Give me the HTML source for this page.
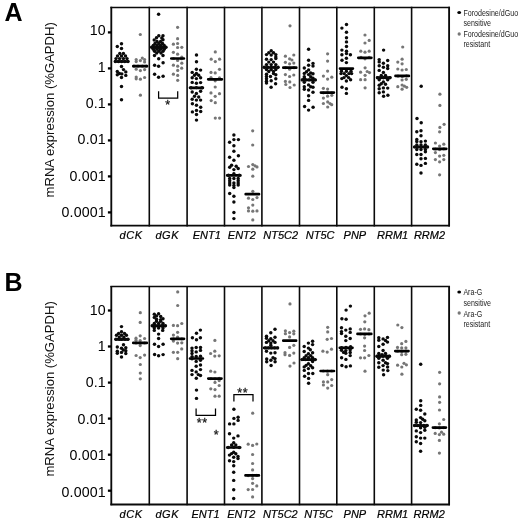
<!DOCTYPE html>
<html><head><meta charset="utf-8"><title>Figure</title>
<style>html,body{margin:0;padding:0;background:#fff}svg{display:block}</style></head>
<body>
<svg width="520" height="523" viewBox="0 0 520 523" font-family="Liberation Sans, sans-serif">
<rect width="520" height="523" fill="#fff"/>
<path d="M149.3 6.8V226.5M187.1 6.8V226.5M224.5 6.8V226.5M261.9 6.8V226.5M299.5 6.8V226.5M336.8 6.8V226.5M374.3 6.8V226.5M411.6 6.8V226.5" stroke="#0a0a0a" stroke-width="1.6" fill="none"/>
<path d="M111.3 6.8V226.5M449.1 6.8V226.5" stroke="#0a0a0a" stroke-width="1.85" fill="none"/>
<path d="M110.4 7.5H450.0" stroke="#0a0a0a" stroke-width="1.5" fill="none"/>
<path d="M110.4 225.6H450.0" stroke="#0a0a0a" stroke-width="1.9" fill="none"/>
<g font-size="14.2" letter-spacing="0.17" text-anchor="end" fill="#000">
<line x1="107.9" y1="32.4" x2="111.3" y2="32.4" stroke="#000" stroke-width="2.3"/>
<text x="105.9" y="35.4">10</text>
<line x1="107.9" y1="68.4" x2="111.3" y2="68.4" stroke="#000" stroke-width="2.3"/>
<text x="105.9" y="71.7">1</text>
<line x1="107.9" y1="104.4" x2="111.3" y2="104.4" stroke="#000" stroke-width="2.3"/>
<text x="105.9" y="108.1">0.1</text>
<line x1="107.9" y1="140.4" x2="111.3" y2="140.4" stroke="#000" stroke-width="2.3"/>
<text x="105.9" y="144.4">0.01</text>
<line x1="107.9" y1="176.4" x2="111.3" y2="176.4" stroke="#000" stroke-width="2.3"/>
<text x="105.9" y="180.8">0.001</text>
<line x1="107.9" y1="212.4" x2="111.3" y2="212.4" stroke="#000" stroke-width="2.3"/>
<text x="105.9" y="217.1">0.0001</text>
</g>
<g font-size="11" font-style="italic" text-anchor="middle" fill="#000" stroke="#000" stroke-width="0.2">
<text x="131.2" y="238.6" letter-spacing="0.6">dCK</text>
<text x="167.3" y="238.6" letter-spacing="0.6">dGK</text>
<text x="206.8" y="238.6">ENT1</text>
<text x="241.9" y="238.6">ENT2</text>
<text x="280.7" y="238.6">NT5C2</text>
<text x="320.1" y="238.6">NT5C</text>
<text x="354.9" y="238.6">PNP</text>
<text x="392.6" y="238.6">RRM1</text>
<text x="429.5" y="238.6">RRM2</text>
</g>
<text transform="translate(54.2,109.8) rotate(-90)" font-size="13.1" text-anchor="middle" fill="#111">mRNA expression (%GAPDH)</text>
<text x="4.5" y="20.8" font-size="25" font-weight="bold" fill="#000">A</text>
<g fill="#767676">
<circle cx="140.3" cy="34.5" r="1.6"/><circle cx="136.2" cy="59.6" r="1.6"/><circle cx="136.2" cy="61.6" r="1.6"/><circle cx="142.3" cy="58.1" r="1.6"/><circle cx="140.4" cy="60.6" r="1.6"/><circle cx="144.6" cy="59.6" r="1.6"/><circle cx="144.6" cy="62" r="1.6"/><circle cx="134" cy="66.2" r="1.6"/><circle cx="138" cy="66.2" r="1.6"/><circle cx="142.4" cy="66.2" r="1.6"/><circle cx="146.3" cy="66.2" r="1.6"/><circle cx="136.2" cy="69.2" r="1.6"/><circle cx="140.4" cy="70.6" r="1.6"/><circle cx="144.6" cy="69.6" r="1.6"/><circle cx="136.2" cy="77" r="1.6"/><circle cx="136.2" cy="78.8" r="1.6"/><circle cx="140.4" cy="79.2" r="1.6"/><circle cx="144.6" cy="77.5" r="1.6"/><circle cx="140.4" cy="95.2" r="1.6"/><circle cx="177.6" cy="27.3" r="1.6"/><circle cx="177.6" cy="38.7" r="1.6"/><circle cx="173.4" cy="44.2" r="1.6"/><circle cx="177.6" cy="43.5" r="1.6"/><circle cx="177.6" cy="47.5" r="1.6"/><circle cx="181.8" cy="47.3" r="1.6"/><circle cx="173.4" cy="52.3" r="1.6"/><circle cx="177.6" cy="54.2" r="1.6"/><circle cx="181.8" cy="57" r="1.6"/><circle cx="177.6" cy="60.4" r="1.6"/><circle cx="181.8" cy="63.2" r="1.6"/><circle cx="173.4" cy="65.2" r="1.6"/><circle cx="177.7" cy="66.2" r="1.6"/><circle cx="181.7" cy="68.2" r="1.6"/><circle cx="177.7" cy="70.4" r="1.6"/><circle cx="173.4" cy="74.2" r="1.6"/><circle cx="177.7" cy="75.4" r="1.6"/><circle cx="177.7" cy="80.3" r="1.6"/><circle cx="173.5" cy="58.5" r="1.6"/><circle cx="181.5" cy="58.7" r="1.6"/><circle cx="215.3" cy="51.9" r="1.6"/><circle cx="211.2" cy="59.2" r="1.6"/><circle cx="215.3" cy="61.6" r="1.6"/><circle cx="219.6" cy="59.2" r="1.6"/><circle cx="219.5" cy="69.3" r="1.6"/><circle cx="211" cy="72.4" r="1.6"/><circle cx="215.2" cy="72.9" r="1.6"/><circle cx="211" cy="77.6" r="1.6"/><circle cx="219.5" cy="77.9" r="1.6"/><circle cx="215.2" cy="80.8" r="1.6"/><circle cx="215.2" cy="87" r="1.6"/><circle cx="211" cy="92.9" r="1.6"/><circle cx="219.5" cy="93.7" r="1.6"/><circle cx="215.2" cy="96.3" r="1.6"/><circle cx="211.2" cy="100.6" r="1.6"/><circle cx="215.3" cy="102.7" r="1.6"/><circle cx="215.3" cy="118.1" r="1.6"/><circle cx="219.6" cy="118.1" r="1.6"/><circle cx="252.7" cy="130.8" r="1.6"/><circle cx="252.7" cy="145" r="1.6"/><circle cx="248.5" cy="166.5" r="1.6"/><circle cx="252.8" cy="164.6" r="1.6"/><circle cx="255" cy="165.8" r="1.6"/><circle cx="257" cy="166.9" r="1.6"/><circle cx="252.8" cy="169.2" r="1.6"/><circle cx="252.8" cy="176.2" r="1.6"/><circle cx="252.8" cy="191.3" r="1.6"/><circle cx="248.5" cy="198.2" r="1.6"/><circle cx="252.8" cy="199.5" r="1.6"/><circle cx="257" cy="197.6" r="1.6"/><circle cx="252.8" cy="205.1" r="1.6"/><circle cx="248.5" cy="207.8" r="1.6"/><circle cx="248.5" cy="210.9" r="1.6"/><circle cx="252.8" cy="211.2" r="1.6"/><circle cx="257" cy="210.9" r="1.6"/><circle cx="252.8" cy="219.9" r="1.6"/><circle cx="290" cy="25.8" r="1.6"/><circle cx="285.4" cy="56.2" r="1.6"/><circle cx="293.8" cy="55" r="1.6"/><circle cx="289.6" cy="58.8" r="1.6"/><circle cx="291.9" cy="60" r="1.6"/><circle cx="285.4" cy="62.3" r="1.6"/><circle cx="289.6" cy="63.8" r="1.6"/><circle cx="293.8" cy="63.1" r="1.6"/><circle cx="289.6" cy="69.2" r="1.6"/><circle cx="285.5" cy="67.7" r="1.6"/><circle cx="294" cy="67.7" r="1.6"/><circle cx="285.4" cy="74.6" r="1.6"/><circle cx="289.6" cy="76.5" r="1.6"/><circle cx="293.8" cy="75" r="1.6"/><circle cx="285.4" cy="81.4" r="1.6"/><circle cx="289.8" cy="81.9" r="1.6"/><circle cx="285.8" cy="84.5" r="1.6"/><circle cx="294.2" cy="85" r="1.6"/><circle cx="290" cy="87.5" r="1.6"/><circle cx="327.6" cy="53.8" r="1.6"/><circle cx="327.6" cy="61.1" r="1.6"/><circle cx="327.6" cy="71.1" r="1.6"/><circle cx="323.4" cy="76.1" r="1.6"/><circle cx="331.8" cy="77.2" r="1.6"/><circle cx="327.6" cy="79.1" r="1.6"/><circle cx="323.4" cy="88.3" r="1.6"/><circle cx="327.6" cy="89.1" r="1.6"/><circle cx="323.4" cy="92.8" r="1.6"/><circle cx="327.6" cy="92.6" r="1.6"/><circle cx="331.8" cy="92.8" r="1.6"/><circle cx="327.6" cy="96.2" r="1.6"/><circle cx="331.8" cy="95.3" r="1.6"/><circle cx="323.4" cy="98.1" r="1.6"/><circle cx="323.4" cy="103.5" r="1.6"/><circle cx="327.7" cy="101.9" r="1.6"/><circle cx="330" cy="103.5" r="1.6"/><circle cx="331.7" cy="104.7" r="1.6"/><circle cx="327.7" cy="107" r="1.6"/><circle cx="365" cy="35" r="1.6"/><circle cx="369.2" cy="40.4" r="1.6"/><circle cx="365" cy="43" r="1.6"/><circle cx="360.8" cy="51.2" r="1.6"/><circle cx="365" cy="52.2" r="1.6"/><circle cx="369.2" cy="51.2" r="1.6"/><circle cx="361" cy="57.4" r="1.6"/><circle cx="365" cy="58.8" r="1.6"/><circle cx="369.2" cy="57.4" r="1.6"/><circle cx="365.1" cy="67.8" r="1.6"/><circle cx="360.6" cy="72.2" r="1.6"/><circle cx="367.2" cy="71.5" r="1.6"/><circle cx="369.5" cy="72.6" r="1.6"/><circle cx="365.1" cy="75.3" r="1.6"/><circle cx="360.6" cy="79.7" r="1.6"/><circle cx="365.1" cy="79.7" r="1.6"/><circle cx="365.1" cy="87.8" r="1.6"/><circle cx="402.7" cy="47" r="1.6"/><circle cx="402.1" cy="59.2" r="1.6"/><circle cx="397.8" cy="62.1" r="1.6"/><circle cx="402.1" cy="63.8" r="1.6"/><circle cx="397.8" cy="69" r="1.6"/><circle cx="402.1" cy="70" r="1.6"/><circle cx="406.3" cy="69.5" r="1.6"/><circle cx="398" cy="76.2" r="1.6"/><circle cx="402.3" cy="76.6" r="1.6"/><circle cx="406.5" cy="75.8" r="1.6"/><circle cx="402.1" cy="80" r="1.6"/><circle cx="406.3" cy="79.3" r="1.6"/><circle cx="397.8" cy="86.7" r="1.6"/><circle cx="402.1" cy="85" r="1.6"/><circle cx="404.4" cy="86.2" r="1.6"/><circle cx="406.7" cy="87.3" r="1.6"/><circle cx="402.1" cy="89.2" r="1.6"/><circle cx="439.9" cy="94.2" r="1.6"/><circle cx="439.9" cy="105.4" r="1.6"/><circle cx="444.1" cy="124.3" r="1.6"/><circle cx="439.9" cy="127.4" r="1.6"/><circle cx="439.6" cy="131.8" r="1.6"/><circle cx="435.4" cy="143" r="1.6"/><circle cx="443.8" cy="144.2" r="1.6"/><circle cx="439.6" cy="146.1" r="1.6"/><circle cx="435.4" cy="149" r="1.6"/><circle cx="439.6" cy="149.6" r="1.6"/><circle cx="443.8" cy="148.8" r="1.6"/><circle cx="435.4" cy="152.6" r="1.6"/><circle cx="439.6" cy="156.1" r="1.6"/><circle cx="443.8" cy="155.3" r="1.6"/><circle cx="435.4" cy="159.6" r="1.6"/><circle cx="443.8" cy="159.6" r="1.6"/><circle cx="439.6" cy="161.8" r="1.6"/><circle cx="439.6" cy="174.8" r="1.6"/>
</g>
<path d="M115.5 61.5H128M133.3 66.2H147M152 47.3H165.6M171.3 58.5H183.9M190 87.8H202.9M208.2 79.3H221.9M227.2 175.4H240.4M245.7 194.2H259M264.5 67.5H277.8M283.3 67.7H296.3M302.3 79.9H315.2M320.9 92.6H333.9M340 68.6H352.9M358.3 57.8H371.4M377.2 77.6H390.4M395.5 75.9H408.9M414.5 147H427.8M433.3 148.8H446.3" stroke="#000" stroke-width="2.7" stroke-linecap="round" fill="none"/>
<g fill="#0a0a0a">
<circle cx="121.5" cy="43.8" r="1.72"/><circle cx="117.3" cy="46.5" r="1.72"/><circle cx="121.5" cy="48.5" r="1.72"/><circle cx="119.8" cy="53.5" r="1.72"/><circle cx="123.4" cy="53.5" r="1.72"/><circle cx="117.5" cy="56" r="1.72"/><circle cx="121.5" cy="56" r="1.72"/><circle cx="125.5" cy="56" r="1.72"/><circle cx="116" cy="58.6" r="1.72"/><circle cx="119.6" cy="58.6" r="1.72"/><circle cx="123.4" cy="58.6" r="1.72"/><circle cx="127" cy="58.6" r="1.72"/><circle cx="115.3" cy="61.5" r="1.72"/><circle cx="118.5" cy="61.5" r="1.72"/><circle cx="121.6" cy="61.5" r="1.72"/><circle cx="124.8" cy="61.5" r="1.72"/><circle cx="128" cy="61.5" r="1.72"/><circle cx="121.5" cy="66.5" r="1.72"/><circle cx="123.5" cy="69.6" r="1.72"/><circle cx="125.8" cy="71.9" r="1.72"/><circle cx="117.3" cy="71.5" r="1.72"/><circle cx="119.4" cy="73.5" r="1.72"/><circle cx="117.3" cy="74.8" r="1.72"/><circle cx="121.8" cy="73.9" r="1.72"/><circle cx="125.8" cy="75.4" r="1.72"/><circle cx="121.5" cy="77.5" r="1.72"/><circle cx="121.5" cy="86.5" r="1.72"/><circle cx="121.5" cy="99.8" r="1.72"/><circle cx="158.6" cy="14.2" r="1.72"/><circle cx="158.8" cy="35.8" r="1.72"/><circle cx="163" cy="35.8" r="1.72"/><circle cx="156.5" cy="37.7" r="1.72"/><circle cx="161.8" cy="38" r="1.72"/><circle cx="154.2" cy="40" r="1.72"/><circle cx="163" cy="39.8" r="1.72"/><circle cx="157" cy="41.5" r="1.72"/><circle cx="160.6" cy="41.5" r="1.72"/><circle cx="155" cy="43.5" r="1.72"/><circle cx="158.8" cy="43.5" r="1.72"/><circle cx="162.5" cy="43.5" r="1.72"/><circle cx="153.3" cy="45.5" r="1.72"/><circle cx="157" cy="45.5" r="1.72"/><circle cx="160.6" cy="45.5" r="1.72"/><circle cx="164.2" cy="45.5" r="1.72"/><circle cx="151.6" cy="47.3" r="1.72"/><circle cx="155.2" cy="47.3" r="1.72"/><circle cx="158.8" cy="47.3" r="1.72"/><circle cx="162.4" cy="47.3" r="1.72"/><circle cx="166" cy="47.3" r="1.72"/><circle cx="153.3" cy="49.3" r="1.72"/><circle cx="157" cy="49.3" r="1.72"/><circle cx="160.6" cy="49.3" r="1.72"/><circle cx="164.2" cy="49.3" r="1.72"/><circle cx="154.6" cy="51.3" r="1.72"/><circle cx="158.8" cy="51.3" r="1.72"/><circle cx="163" cy="51.3" r="1.72"/><circle cx="156.7" cy="53" r="1.72"/><circle cx="161" cy="53" r="1.72"/><circle cx="154.5" cy="55.5" r="1.72"/><circle cx="163" cy="55.5" r="1.72"/><circle cx="158.7" cy="58.7" r="1.72"/><circle cx="163.1" cy="62.7" r="1.72"/><circle cx="154.6" cy="65.3" r="1.72"/><circle cx="158.6" cy="66.2" r="1.72"/><circle cx="154.6" cy="74.3" r="1.72"/><circle cx="158.6" cy="77.3" r="1.72"/><circle cx="163.1" cy="76.3" r="1.72"/><circle cx="196.5" cy="55" r="1.72"/><circle cx="196.5" cy="61.8" r="1.72"/><circle cx="196.4" cy="69.3" r="1.72"/><circle cx="200.6" cy="70.1" r="1.72"/><circle cx="192.2" cy="72.4" r="1.72"/><circle cx="196.4" cy="73.5" r="1.72"/><circle cx="194.5" cy="75.2" r="1.72"/><circle cx="198.7" cy="75.2" r="1.72"/><circle cx="192.2" cy="77.8" r="1.72"/><circle cx="196.4" cy="78.6" r="1.72"/><circle cx="200.6" cy="77.8" r="1.72"/><circle cx="192.2" cy="82.4" r="1.72"/><circle cx="196.4" cy="83.2" r="1.72"/><circle cx="200.6" cy="82.6" r="1.72"/><circle cx="192.2" cy="92" r="1.72"/><circle cx="200.6" cy="91.2" r="1.72"/><circle cx="196.4" cy="93.5" r="1.72"/><circle cx="194.5" cy="96.2" r="1.72"/><circle cx="198.7" cy="97" r="1.72"/><circle cx="192.2" cy="99.3" r="1.72"/><circle cx="196.4" cy="100.1" r="1.72"/><circle cx="200.6" cy="100.1" r="1.72"/><circle cx="192.4" cy="103.8" r="1.72"/><circle cx="196.5" cy="105.3" r="1.72"/><circle cx="200.7" cy="107.3" r="1.72"/><circle cx="192.4" cy="111.9" r="1.72"/><circle cx="196.5" cy="110.4" r="1.72"/><circle cx="200.7" cy="111.5" r="1.72"/><circle cx="196.5" cy="114.5" r="1.72"/><circle cx="196.5" cy="120.1" r="1.72"/><circle cx="191" cy="87.8" r="1.72"/><circle cx="196.4" cy="87.6" r="1.72"/><circle cx="202" cy="87.8" r="1.72"/><circle cx="233.9" cy="135" r="1.72"/><circle cx="233.9" cy="139.6" r="1.72"/><circle cx="238.4" cy="139.6" r="1.72"/><circle cx="229.6" cy="142.2" r="1.72"/><circle cx="233.9" cy="145.8" r="1.72"/><circle cx="233.9" cy="151.2" r="1.72"/><circle cx="238.4" cy="155.8" r="1.72"/><circle cx="229.6" cy="157.3" r="1.72"/><circle cx="233.9" cy="160.3" r="1.72"/><circle cx="231.6" cy="165.2" r="1.72"/><circle cx="229.7" cy="167.3" r="1.72"/><circle cx="236.2" cy="166.2" r="1.72"/><circle cx="238.2" cy="168.5" r="1.72"/><circle cx="233.9" cy="169.6" r="1.72"/><circle cx="233.9" cy="173.8" r="1.72"/><circle cx="229.7" cy="178.5" r="1.72"/><circle cx="233.9" cy="178.5" r="1.72"/><circle cx="238.2" cy="178.5" r="1.72"/><circle cx="229.7" cy="180.8" r="1.72"/><circle cx="238.2" cy="180.8" r="1.72"/><circle cx="229.7" cy="183" r="1.72"/><circle cx="233.9" cy="183" r="1.72"/><circle cx="238.2" cy="183" r="1.72"/><circle cx="229.7" cy="185" r="1.72"/><circle cx="233.9" cy="185.4" r="1.72"/><circle cx="238.2" cy="185" r="1.72"/><circle cx="233.9" cy="187.6" r="1.72"/><circle cx="229.7" cy="193.5" r="1.72"/><circle cx="233.9" cy="196.3" r="1.72"/><circle cx="233.9" cy="202" r="1.72"/><circle cx="233.9" cy="212.5" r="1.72"/><circle cx="233.9" cy="218.6" r="1.72"/><circle cx="228.5" cy="175.3" r="1.72"/><circle cx="239.3" cy="175.3" r="1.72"/><circle cx="271.2" cy="50.8" r="1.72"/><circle cx="268.8" cy="52.7" r="1.72"/><circle cx="273.5" cy="52.7" r="1.72"/><circle cx="266.5" cy="54.6" r="1.72"/><circle cx="271.2" cy="55" r="1.72"/><circle cx="275.8" cy="54.6" r="1.72"/><circle cx="275.8" cy="56.9" r="1.72"/><circle cx="275.8" cy="58.6" r="1.72"/><circle cx="266.5" cy="59.2" r="1.72"/><circle cx="271.2" cy="59.6" r="1.72"/><circle cx="268.8" cy="62.1" r="1.72"/><circle cx="273.5" cy="62.1" r="1.72"/><circle cx="266.5" cy="64.6" r="1.72"/><circle cx="271.2" cy="64.6" r="1.72"/><circle cx="275.8" cy="64.6" r="1.72"/><circle cx="264.2" cy="67.3" r="1.72"/><circle cx="267.7" cy="67.3" r="1.72"/><circle cx="271.2" cy="67.3" r="1.72"/><circle cx="274.6" cy="67.3" r="1.72"/><circle cx="278.1" cy="67.3" r="1.72"/><circle cx="266.5" cy="69.6" r="1.72"/><circle cx="271.2" cy="69.6" r="1.72"/><circle cx="275.8" cy="69.6" r="1.72"/><circle cx="268.8" cy="71.5" r="1.72"/><circle cx="273.5" cy="71.5" r="1.72"/><circle cx="266.5" cy="74.2" r="1.72"/><circle cx="273.5" cy="73.6" r="1.72"/><circle cx="275.8" cy="74.8" r="1.72"/><circle cx="266.5" cy="76.5" r="1.72"/><circle cx="266.5" cy="78.8" r="1.72"/><circle cx="266.5" cy="81.2" r="1.72"/><circle cx="266.5" cy="83.1" r="1.72"/><circle cx="270.5" cy="76.5" r="1.72"/><circle cx="275.8" cy="78.8" r="1.72"/><circle cx="271.2" cy="80.8" r="1.72"/><circle cx="275.6" cy="83.8" r="1.72"/><circle cx="271.1" cy="87.3" r="1.72"/><circle cx="308.6" cy="49.2" r="1.72"/><circle cx="308.6" cy="60.3" r="1.72"/><circle cx="313" cy="63.4" r="1.72"/><circle cx="313" cy="66.1" r="1.72"/><circle cx="308.6" cy="65.3" r="1.72"/><circle cx="304.3" cy="68" r="1.72"/><circle cx="308.6" cy="69.9" r="1.72"/><circle cx="306.5" cy="71.8" r="1.72"/><circle cx="304.3" cy="73.4" r="1.72"/><circle cx="310.7" cy="73" r="1.72"/><circle cx="313" cy="73.8" r="1.72"/><circle cx="308.6" cy="74.6" r="1.72"/><circle cx="304.3" cy="76.8" r="1.72"/><circle cx="310.7" cy="76.8" r="1.72"/><circle cx="304.3" cy="78.2" r="1.72"/><circle cx="313" cy="78.2" r="1.72"/><circle cx="302.2" cy="79.9" r="1.72"/><circle cx="305.7" cy="79.9" r="1.72"/><circle cx="309.2" cy="79.9" r="1.72"/><circle cx="312.6" cy="79.9" r="1.72"/><circle cx="315.3" cy="79.9" r="1.72"/><circle cx="304.3" cy="82.2" r="1.72"/><circle cx="313" cy="82.2" r="1.72"/><circle cx="308.6" cy="84.9" r="1.72"/><circle cx="304.3" cy="86.8" r="1.72"/><circle cx="310.7" cy="86.8" r="1.72"/><circle cx="313" cy="87.3" r="1.72"/><circle cx="304.3" cy="89.3" r="1.72"/><circle cx="308.6" cy="90" r="1.72"/><circle cx="313" cy="92.2" r="1.72"/><circle cx="308.6" cy="95.8" r="1.72"/><circle cx="308.6" cy="100.4" r="1.72"/><circle cx="304.6" cy="106.5" r="1.72"/><circle cx="313.1" cy="107.3" r="1.72"/><circle cx="308.6" cy="110.1" r="1.72"/><circle cx="346.5" cy="24.5" r="1.72"/><circle cx="341.9" cy="28.1" r="1.72"/><circle cx="346.5" cy="32.2" r="1.72"/><circle cx="346.5" cy="37.8" r="1.72"/><circle cx="346.5" cy="41.9" r="1.72"/><circle cx="346.5" cy="46.5" r="1.72"/><circle cx="341.9" cy="50.1" r="1.72"/><circle cx="346.5" cy="51.2" r="1.72"/><circle cx="341.9" cy="54.7" r="1.72"/><circle cx="346.5" cy="53.6" r="1.72"/><circle cx="350.4" cy="54.7" r="1.72"/><circle cx="346.4" cy="58.3" r="1.72"/><circle cx="342" cy="60.3" r="1.72"/><circle cx="346.4" cy="62.6" r="1.72"/><circle cx="341.5" cy="71.3" r="1.72"/><circle cx="346.4" cy="71.3" r="1.72"/><circle cx="351" cy="71.3" r="1.72"/><circle cx="341" cy="73.6" r="1.72"/><circle cx="344.2" cy="73.6" r="1.72"/><circle cx="349" cy="73.6" r="1.72"/><circle cx="351.6" cy="73.6" r="1.72"/><circle cx="346.4" cy="75.6" r="1.72"/><circle cx="344" cy="77.6" r="1.72"/><circle cx="348.6" cy="77.6" r="1.72"/><circle cx="341.8" cy="78.6" r="1.72"/><circle cx="350.6" cy="79.8" r="1.72"/><circle cx="346.4" cy="81" r="1.72"/><circle cx="342" cy="87.2" r="1.72"/><circle cx="346.4" cy="88.8" r="1.72"/><circle cx="346.4" cy="93.4" r="1.72"/><circle cx="383.6" cy="50.1" r="1.72"/><circle cx="379.2" cy="59.6" r="1.72"/><circle cx="379.2" cy="61.9" r="1.72"/><circle cx="387.7" cy="60.5" r="1.72"/><circle cx="383.4" cy="63.3" r="1.72"/><circle cx="379.2" cy="65.8" r="1.72"/><circle cx="387.7" cy="65.8" r="1.72"/><circle cx="387.7" cy="68.5" r="1.72"/><circle cx="383.4" cy="67.3" r="1.72"/><circle cx="379.2" cy="70.4" r="1.72"/><circle cx="383.4" cy="72.5" r="1.72"/><circle cx="381.3" cy="75.4" r="1.72"/><circle cx="385.5" cy="75.4" r="1.72"/><circle cx="377.5" cy="77.7" r="1.72"/><circle cx="380.5" cy="77.7" r="1.72"/><circle cx="383.4" cy="77.7" r="1.72"/><circle cx="386.3" cy="77.7" r="1.72"/><circle cx="389.8" cy="77.7" r="1.72"/><circle cx="379.2" cy="79.8" r="1.72"/><circle cx="387.7" cy="79.8" r="1.72"/><circle cx="383.4" cy="81.9" r="1.72"/><circle cx="381.3" cy="83.8" r="1.72"/><circle cx="385.5" cy="84.2" r="1.72"/><circle cx="379.2" cy="85.2" r="1.72"/><circle cx="379.2" cy="88.8" r="1.72"/><circle cx="383.4" cy="87.9" r="1.72"/><circle cx="387.7" cy="88.1" r="1.72"/><circle cx="379.2" cy="92.7" r="1.72"/><circle cx="383.4" cy="91.9" r="1.72"/><circle cx="387.9" cy="95.2" r="1.72"/><circle cx="383.6" cy="96.2" r="1.72"/><circle cx="421.2" cy="86.2" r="1.72"/><circle cx="417" cy="118.5" r="1.72"/><circle cx="421.2" cy="122.8" r="1.72"/><circle cx="416.8" cy="131.7" r="1.72"/><circle cx="421" cy="130.7" r="1.72"/><circle cx="421" cy="135.7" r="1.72"/><circle cx="416.8" cy="139.4" r="1.72"/><circle cx="416.8" cy="141.5" r="1.72"/><circle cx="421" cy="141.8" r="1.72"/><circle cx="425.4" cy="141.1" r="1.72"/><circle cx="416.8" cy="144.9" r="1.72"/><circle cx="421" cy="144.9" r="1.72"/><circle cx="425.4" cy="144.9" r="1.72"/><circle cx="414.6" cy="146.9" r="1.72"/><circle cx="417.8" cy="146.9" r="1.72"/><circle cx="421" cy="146.9" r="1.72"/><circle cx="424.2" cy="146.9" r="1.72"/><circle cx="427.5" cy="146.9" r="1.72"/><circle cx="416.8" cy="149.5" r="1.72"/><circle cx="421" cy="149.5" r="1.72"/><circle cx="425.4" cy="149.5" r="1.72"/><circle cx="425.4" cy="151.8" r="1.72"/><circle cx="416.8" cy="154.5" r="1.72"/><circle cx="421" cy="154.5" r="1.72"/><circle cx="421" cy="158.8" r="1.72"/><circle cx="425.4" cy="158.4" r="1.72"/><circle cx="416.8" cy="164.2" r="1.72"/><circle cx="421" cy="165.4" r="1.72"/><circle cx="425.4" cy="163.4" r="1.72"/><circle cx="421" cy="173" r="1.72"/>
</g>
<path d="M158.6 91.2V98.2H177.7V91.2" stroke="#000" stroke-width="1.25" fill="none"/>
<text x="168" y="109" font-size="12.5" letter-spacing="0.7" text-anchor="middle" fill="#1a1a1a" stroke="#1a1a1a" stroke-width="0.3">*</text>
<path d="M149.3 285.9V505.3M187.1 285.9V505.3M224.5 285.9V505.3M261.9 285.9V505.3M299.5 285.9V505.3M336.8 285.9V505.3M374.3 285.9V505.3M411.6 285.9V505.3" stroke="#0a0a0a" stroke-width="1.6" fill="none"/>
<path d="M111.3 285.9V505.3M449.1 285.9V505.3" stroke="#0a0a0a" stroke-width="1.85" fill="none"/>
<path d="M110.4 286.6H450.0" stroke="#0a0a0a" stroke-width="1.5" fill="none"/>
<path d="M110.4 504.45H450.0" stroke="#0a0a0a" stroke-width="1.9" fill="none"/>
<g font-size="14.2" letter-spacing="0.17" text-anchor="end" fill="#000">
<line x1="107.9" y1="310.5" x2="111.3" y2="310.5" stroke="#000" stroke-width="2.3"/>
<text x="105.9" y="314.5">10</text>
<line x1="107.9" y1="346.5" x2="111.3" y2="346.5" stroke="#000" stroke-width="2.3"/>
<text x="105.9" y="350.9">1</text>
<line x1="107.9" y1="382.6" x2="111.3" y2="382.6" stroke="#000" stroke-width="2.3"/>
<text x="105.9" y="387.3">0.1</text>
<line x1="107.9" y1="418.6" x2="111.3" y2="418.6" stroke="#000" stroke-width="2.3"/>
<text x="105.9" y="423.7">0.01</text>
<line x1="107.9" y1="454.7" x2="111.3" y2="454.7" stroke="#000" stroke-width="2.3"/>
<text x="105.9" y="460.1">0.001</text>
<line x1="107.9" y1="490.7" x2="111.3" y2="490.7" stroke="#000" stroke-width="2.3"/>
<text x="105.9" y="496.5">0.0001</text>
</g>
<g font-size="11" font-style="italic" text-anchor="middle" fill="#000" stroke="#000" stroke-width="0.2">
<text x="131.2" y="517.6" letter-spacing="0.6">dCK</text>
<text x="167.3" y="517.6" letter-spacing="0.6">dGK</text>
<text x="205.6" y="517.6">ENT1</text>
<text x="241.2" y="517.6">ENT2</text>
<text x="280.3" y="517.6">NT5C2</text>
<text x="318.6" y="517.6">NT5C</text>
<text x="354.9" y="517.6">PNP</text>
<text x="392.6" y="517.6">RRM1</text>
<text x="429.2" y="517.6">RRM2</text>
</g>
<text transform="translate(54.2,388.9) rotate(-90)" font-size="13.1" text-anchor="middle" fill="#111">mRNA expression (%GAPDH)</text>
<text x="4.5" y="290.8" font-size="25" font-weight="bold" fill="#000">B</text>
<g fill="#767676">
<circle cx="140.3" cy="312.7" r="1.6"/><circle cx="140.2" cy="322.4" r="1.6"/><circle cx="140.2" cy="335.8" r="1.6"/><circle cx="136" cy="338.2" r="1.6"/><circle cx="136" cy="340.2" r="1.6"/><circle cx="144.6" cy="338.5" r="1.6"/><circle cx="140.2" cy="340.5" r="1.6"/><circle cx="136" cy="343" r="1.6"/><circle cx="140.3" cy="343.2" r="1.6"/><circle cx="144.6" cy="343" r="1.6"/><circle cx="140.2" cy="345.6" r="1.6"/><circle cx="136.1" cy="355.5" r="1.6"/><circle cx="144.6" cy="355.1" r="1.6"/><circle cx="140.2" cy="357.6" r="1.6"/><circle cx="140.3" cy="364.5" r="1.6"/><circle cx="140.3" cy="373.1" r="1.6"/><circle cx="140.3" cy="378.8" r="1.6"/><circle cx="177.7" cy="291.9" r="1.6"/><circle cx="177.7" cy="305.5" r="1.6"/><circle cx="181.8" cy="323.5" r="1.6"/><circle cx="173.4" cy="325.4" r="1.6"/><circle cx="177.6" cy="325.7" r="1.6"/><circle cx="177.6" cy="332.3" r="1.6"/><circle cx="173.4" cy="335.1" r="1.6"/><circle cx="177.6" cy="337.2" r="1.6"/><circle cx="173.4" cy="341.1" r="1.6"/><circle cx="177.6" cy="343.1" r="1.6"/><circle cx="181.8" cy="342.8" r="1.6"/><circle cx="181.7" cy="348.9" r="1.6"/><circle cx="173.4" cy="352.3" r="1.6"/><circle cx="177.7" cy="352.3" r="1.6"/><circle cx="177.7" cy="358.7" r="1.6"/><circle cx="173.5" cy="338.8" r="1.6"/><circle cx="181.8" cy="338.8" r="1.6"/><circle cx="214.9" cy="340.4" r="1.6"/><circle cx="214.8" cy="351.2" r="1.6"/><circle cx="210.6" cy="353.5" r="1.6"/><circle cx="214.8" cy="356.1" r="1.6"/><circle cx="219.2" cy="355.8" r="1.6"/><circle cx="210.7" cy="371.2" r="1.6"/><circle cx="214.9" cy="372" r="1.6"/><circle cx="210.8" cy="378.6" r="1.6"/><circle cx="215" cy="378.8" r="1.6"/><circle cx="219.2" cy="378.4" r="1.6"/><circle cx="215" cy="382.4" r="1.6"/><circle cx="219.2" cy="380.6" r="1.6"/><circle cx="219.2" cy="385.5" r="1.6"/><circle cx="210.8" cy="388.8" r="1.6"/><circle cx="215" cy="389.6" r="1.6"/><circle cx="215" cy="396.2" r="1.6"/><circle cx="219.2" cy="396.2" r="1.6"/><circle cx="252.7" cy="413.2" r="1.6"/><circle cx="248.2" cy="444.2" r="1.6"/><circle cx="256.8" cy="444" r="1.6"/><circle cx="252.6" cy="445.4" r="1.6"/><circle cx="252.6" cy="454.5" r="1.6"/><circle cx="252.6" cy="463.5" r="1.6"/><circle cx="252.6" cy="469.9" r="1.6"/><circle cx="248.2" cy="475.6" r="1.6"/><circle cx="252.6" cy="475.4" r="1.6"/><circle cx="256.8" cy="475.4" r="1.6"/><circle cx="252.6" cy="478.6" r="1.6"/><circle cx="252.6" cy="483.3" r="1.6"/><circle cx="256.8" cy="485.9" r="1.6"/><circle cx="248.2" cy="489.6" r="1.6"/><circle cx="252.6" cy="489.5" r="1.6"/><circle cx="252.6" cy="496.9" r="1.6"/><circle cx="290" cy="303.9" r="1.6"/><circle cx="285.4" cy="330.8" r="1.6"/><circle cx="285.4" cy="333.7" r="1.6"/><circle cx="289.6" cy="332.6" r="1.6"/><circle cx="293.8" cy="331.2" r="1.6"/><circle cx="293.8" cy="333.8" r="1.6"/><circle cx="289.6" cy="336.9" r="1.6"/><circle cx="293.8" cy="345.3" r="1.6"/><circle cx="289.6" cy="347.4" r="1.6"/><circle cx="285" cy="352.7" r="1.6"/><circle cx="285" cy="354.7" r="1.6"/><circle cx="289.6" cy="355.4" r="1.6"/><circle cx="293.8" cy="353.1" r="1.6"/><circle cx="294" cy="363" r="1.6"/><circle cx="290" cy="366.1" r="1.6"/><circle cx="327.7" cy="327.3" r="1.6"/><circle cx="327.7" cy="331.9" r="1.6"/><circle cx="327.2" cy="339.3" r="1.6"/><circle cx="331.5" cy="338.5" r="1.6"/><circle cx="331.5" cy="349.2" r="1.6"/><circle cx="322.9" cy="351.2" r="1.6"/><circle cx="327.2" cy="352.1" r="1.6"/><circle cx="323.3" cy="371" r="1.6"/><circle cx="327.5" cy="371.2" r="1.6"/><circle cx="331.7" cy="371" r="1.6"/><circle cx="327.7" cy="374.7" r="1.6"/><circle cx="331.7" cy="379.6" r="1.6"/><circle cx="323.4" cy="381.9" r="1.6"/><circle cx="327.7" cy="381.9" r="1.6"/><circle cx="323.4" cy="385" r="1.6"/><circle cx="331.7" cy="385.5" r="1.6"/><circle cx="327.7" cy="388.1" r="1.6"/><circle cx="369.2" cy="313.2" r="1.6"/><circle cx="365" cy="315.8" r="1.6"/><circle cx="364.8" cy="321.8" r="1.6"/><circle cx="360.5" cy="329.3" r="1.6"/><circle cx="364.6" cy="328.9" r="1.6"/><circle cx="368.9" cy="329.7" r="1.6"/><circle cx="360.6" cy="334" r="1.6"/><circle cx="364.8" cy="334.4" r="1.6"/><circle cx="369" cy="334" r="1.6"/><circle cx="364.6" cy="337.8" r="1.6"/><circle cx="364.6" cy="346.1" r="1.6"/><circle cx="364.6" cy="350.5" r="1.6"/><circle cx="368.9" cy="355.5" r="1.6"/><circle cx="360.5" cy="357.8" r="1.6"/><circle cx="364.6" cy="357.8" r="1.6"/><circle cx="365" cy="371.2" r="1.6"/><circle cx="397.8" cy="325" r="1.6"/><circle cx="401.9" cy="327.6" r="1.6"/><circle cx="405.9" cy="341.4" r="1.6"/><circle cx="401.7" cy="343.7" r="1.6"/><circle cx="397.5" cy="347.4" r="1.6"/><circle cx="401.7" cy="347.9" r="1.6"/><circle cx="405.9" cy="347.8" r="1.6"/><circle cx="397.6" cy="351.2" r="1.6"/><circle cx="401.8" cy="351.4" r="1.6"/><circle cx="406" cy="351.2" r="1.6"/><circle cx="401.7" cy="354.7" r="1.6"/><circle cx="405.9" cy="354.3" r="1.6"/><circle cx="397.6" cy="365.2" r="1.6"/><circle cx="404" cy="363.3" r="1.6"/><circle cx="406.4" cy="364.8" r="1.6"/><circle cx="401.8" cy="367" r="1.6"/><circle cx="401.9" cy="374.2" r="1.6"/><circle cx="439.6" cy="372.3" r="1.6"/><circle cx="439.6" cy="383.8" r="1.6"/><circle cx="439.6" cy="396.9" r="1.6"/><circle cx="439.6" cy="402.3" r="1.6"/><circle cx="439.5" cy="410" r="1.6"/><circle cx="443.7" cy="419.5" r="1.6"/><circle cx="439.4" cy="423.8" r="1.6"/><circle cx="435.2" cy="427.7" r="1.6"/><circle cx="439.4" cy="427.9" r="1.6"/><circle cx="443.7" cy="427.6" r="1.6"/><circle cx="435.2" cy="433.4" r="1.6"/><circle cx="441.5" cy="432.2" r="1.6"/><circle cx="439.4" cy="434.6" r="1.6"/><circle cx="443.7" cy="434.2" r="1.6"/><circle cx="439.4" cy="440.4" r="1.6"/><circle cx="439.4" cy="453.1" r="1.6"/>
</g>
<path d="M115.6 339.3H128M133.3 342.9H146.8M152.3 325.8H165.4M171.2 338.8H184M190 358.5H202.9M208.3 378.6H221.5M227.2 447.5H240.2M245.5 475.4H258.9M264.2 347.9H277.8M283.3 340.7H296.1M302.2 359.7H315M320.6 371H334M339.8 347.8H352.5M357.5 333.9H371.3M376.8 356.2H389.6M395.3 351.1H408.5M414.3 425.6H427.5M432.9 427.6H445.9" stroke="#000" stroke-width="2.7" stroke-linecap="round" fill="none"/>
<g fill="#0a0a0a">
<circle cx="121.5" cy="326.6" r="1.72"/><circle cx="121.5" cy="331.7" r="1.72"/><circle cx="118.6" cy="333.5" r="1.72"/><circle cx="124.5" cy="333.5" r="1.72"/><circle cx="116.5" cy="335.2" r="1.72"/><circle cx="121.5" cy="335.2" r="1.72"/><circle cx="126.4" cy="335.2" r="1.72"/><circle cx="119.2" cy="337.1" r="1.72"/><circle cx="123.8" cy="337.1" r="1.72"/><circle cx="116" cy="339.3" r="1.72"/><circle cx="119.4" cy="339.3" r="1.72"/><circle cx="121.6" cy="339.3" r="1.72"/><circle cx="125" cy="339.3" r="1.72"/><circle cx="128" cy="339.3" r="1.72"/><circle cx="123.5" cy="344.7" r="1.72"/><circle cx="117.3" cy="347" r="1.72"/><circle cx="121.5" cy="348.2" r="1.72"/><circle cx="125.8" cy="347.8" r="1.72"/><circle cx="123.3" cy="350" r="1.72"/><circle cx="117.3" cy="351.2" r="1.72"/><circle cx="117.3" cy="353.3" r="1.72"/><circle cx="125.8" cy="350.8" r="1.72"/><circle cx="125.8" cy="353.5" r="1.72"/><circle cx="121.5" cy="352.4" r="1.72"/><circle cx="121.5" cy="357" r="1.72"/><circle cx="154.3" cy="314.2" r="1.72"/><circle cx="158.6" cy="313.8" r="1.72"/><circle cx="156.5" cy="315.9" r="1.72"/><circle cx="154.3" cy="317.4" r="1.72"/><circle cx="160.7" cy="316.5" r="1.72"/><circle cx="163" cy="318.8" r="1.72"/><circle cx="156.5" cy="319.2" r="1.72"/><circle cx="160.7" cy="319.6" r="1.72"/><circle cx="156.5" cy="321.2" r="1.72"/><circle cx="160.7" cy="321.2" r="1.72"/><circle cx="154.3" cy="323.5" r="1.72"/><circle cx="158.6" cy="323.5" r="1.72"/><circle cx="163" cy="323.5" r="1.72"/><circle cx="152.2" cy="325.8" r="1.72"/><circle cx="155.6" cy="325.8" r="1.72"/><circle cx="158.6" cy="325.8" r="1.72"/><circle cx="161.8" cy="325.8" r="1.72"/><circle cx="165.4" cy="325.8" r="1.72"/><circle cx="154.3" cy="328.1" r="1.72"/><circle cx="158.6" cy="328.1" r="1.72"/><circle cx="163" cy="328.1" r="1.72"/><circle cx="154.3" cy="330.4" r="1.72"/><circle cx="162.7" cy="330.4" r="1.72"/><circle cx="158.6" cy="334.1" r="1.72"/><circle cx="158.6" cy="338.5" r="1.72"/><circle cx="154.5" cy="344.2" r="1.72"/><circle cx="163.1" cy="344.2" r="1.72"/><circle cx="158.6" cy="346.5" r="1.72"/><circle cx="154.6" cy="354.5" r="1.72"/><circle cx="158.6" cy="355.8" r="1.72"/><circle cx="163.1" cy="354.6" r="1.72"/><circle cx="200.4" cy="330.1" r="1.72"/><circle cx="196.5" cy="333.2" r="1.72"/><circle cx="192.4" cy="337.8" r="1.72"/><circle cx="200.4" cy="337.8" r="1.72"/><circle cx="196.5" cy="339.8" r="1.72"/><circle cx="192" cy="348.1" r="1.72"/><circle cx="192" cy="350.8" r="1.72"/><circle cx="192" cy="353.5" r="1.72"/><circle cx="196.2" cy="347.5" r="1.72"/><circle cx="196.2" cy="351.9" r="1.72"/><circle cx="200.5" cy="347.5" r="1.72"/><circle cx="200.5" cy="350.4" r="1.72"/><circle cx="192" cy="358.8" r="1.72"/><circle cx="196.2" cy="356.5" r="1.72"/><circle cx="196.2" cy="361.4" r="1.72"/><circle cx="200.5" cy="356.3" r="1.72"/><circle cx="200.5" cy="360.2" r="1.72"/><circle cx="192.1" cy="356.6" r="1.72"/><circle cx="200.5" cy="365" r="1.72"/><circle cx="196.2" cy="366.2" r="1.72"/><circle cx="192" cy="370.4" r="1.72"/><circle cx="200.5" cy="369.6" r="1.72"/><circle cx="196.2" cy="371.9" r="1.72"/><circle cx="192" cy="374.6" r="1.72"/><circle cx="198.3" cy="374.6" r="1.72"/><circle cx="200.5" cy="375.5" r="1.72"/><circle cx="196.3" cy="378.3" r="1.72"/><circle cx="196.5" cy="390.1" r="1.72"/><circle cx="196.5" cy="398.4" r="1.72"/><circle cx="233.9" cy="409.2" r="1.72"/><circle cx="233.9" cy="418.4" r="1.72"/><circle cx="238.1" cy="417.3" r="1.72"/><circle cx="238.1" cy="420.4" r="1.72"/><circle cx="229.6" cy="423.9" r="1.72"/><circle cx="233.9" cy="423.9" r="1.72"/><circle cx="229.5" cy="433.8" r="1.72"/><circle cx="238" cy="435.9" r="1.72"/><circle cx="233.7" cy="438.1" r="1.72"/><circle cx="233.7" cy="442.7" r="1.72"/><circle cx="231.6" cy="445" r="1.72"/><circle cx="235.8" cy="445" r="1.72"/><circle cx="228.2" cy="447.5" r="1.72"/><circle cx="233.7" cy="447.3" r="1.72"/><circle cx="239.2" cy="447.5" r="1.72"/><circle cx="233.7" cy="452.3" r="1.72"/><circle cx="231.6" cy="453.6" r="1.72"/><circle cx="229.5" cy="455.1" r="1.72"/><circle cx="235.8" cy="453.8" r="1.72"/><circle cx="238" cy="456.5" r="1.72"/><circle cx="238" cy="458.6" r="1.72"/><circle cx="233.7" cy="457.3" r="1.72"/><circle cx="229.5" cy="460.8" r="1.72"/><circle cx="233.7" cy="461.6" r="1.72"/><circle cx="233.7" cy="465.8" r="1.72"/><circle cx="233.7" cy="472.3" r="1.72"/><circle cx="233.7" cy="480.4" r="1.72"/><circle cx="233.7" cy="489.8" r="1.72"/><circle cx="233.7" cy="498.5" r="1.72"/><circle cx="275" cy="329.2" r="1.72"/><circle cx="270.8" cy="332.7" r="1.72"/><circle cx="266.5" cy="336.2" r="1.72"/><circle cx="266.5" cy="338.2" r="1.72"/><circle cx="275" cy="337.3" r="1.72"/><circle cx="270.8" cy="338.8" r="1.72"/><circle cx="268.8" cy="340.8" r="1.72"/><circle cx="273" cy="340.8" r="1.72"/><circle cx="266.5" cy="342.4" r="1.72"/><circle cx="270.8" cy="343.1" r="1.72"/><circle cx="275" cy="342.4" r="1.72"/><circle cx="270.8" cy="345.2" r="1.72"/><circle cx="265.4" cy="347.9" r="1.72"/><circle cx="268.5" cy="347.9" r="1.72"/><circle cx="271.5" cy="347.9" r="1.72"/><circle cx="274.6" cy="347.9" r="1.72"/><circle cx="277.6" cy="347.9" r="1.72"/><circle cx="266.5" cy="351.2" r="1.72"/><circle cx="270.8" cy="353.1" r="1.72"/><circle cx="275" cy="352.7" r="1.72"/><circle cx="273" cy="357.7" r="1.72"/><circle cx="266.7" cy="359" r="1.72"/><circle cx="266.7" cy="361.7" r="1.72"/><circle cx="270.9" cy="360.2" r="1.72"/><circle cx="275" cy="358.6" r="1.72"/><circle cx="275.1" cy="361.7" r="1.72"/><circle cx="271.1" cy="365.5" r="1.72"/><circle cx="312.6" cy="341.2" r="1.72"/><circle cx="312.6" cy="344.6" r="1.72"/><circle cx="308.4" cy="343.1" r="1.72"/><circle cx="304.2" cy="346.5" r="1.72"/><circle cx="308.4" cy="348.1" r="1.72"/><circle cx="310.3" cy="349.7" r="1.72"/><circle cx="312.6" cy="352.7" r="1.72"/><circle cx="304.2" cy="351.5" r="1.72"/><circle cx="308.4" cy="353.8" r="1.72"/><circle cx="306.1" cy="355.8" r="1.72"/><circle cx="310.7" cy="355.8" r="1.72"/><circle cx="304.2" cy="357.7" r="1.72"/><circle cx="308.4" cy="357.7" r="1.72"/><circle cx="312.6" cy="357.7" r="1.72"/><circle cx="301.9" cy="359.6" r="1.72"/><circle cx="305.3" cy="359.6" r="1.72"/><circle cx="308.8" cy="359.6" r="1.72"/><circle cx="312.2" cy="359.6" r="1.72"/><circle cx="315.3" cy="359.6" r="1.72"/><circle cx="312.6" cy="361.6" r="1.72"/><circle cx="308.4" cy="363.8" r="1.72"/><circle cx="306.1" cy="365.4" r="1.72"/><circle cx="310.7" cy="365.8" r="1.72"/><circle cx="304.2" cy="366.9" r="1.72"/><circle cx="312.6" cy="367.7" r="1.72"/><circle cx="308.4" cy="368.6" r="1.72"/><circle cx="304.3" cy="370.4" r="1.72"/><circle cx="308.5" cy="373.5" r="1.72"/><circle cx="312.8" cy="373.5" r="1.72"/><circle cx="304.6" cy="376.2" r="1.72"/><circle cx="308.6" cy="378.4" r="1.72"/><circle cx="308.6" cy="383.2" r="1.72"/><circle cx="350.4" cy="306.1" r="1.72"/><circle cx="346.1" cy="310.1" r="1.72"/><circle cx="341.9" cy="318.8" r="1.72"/><circle cx="346.1" cy="319.3" r="1.72"/><circle cx="341.5" cy="327.8" r="1.72"/><circle cx="350.2" cy="328.9" r="1.72"/><circle cx="345.8" cy="330.1" r="1.72"/><circle cx="341.5" cy="331.6" r="1.72"/><circle cx="341.5" cy="333.6" r="1.72"/><circle cx="350.2" cy="332.4" r="1.72"/><circle cx="345.8" cy="336.2" r="1.72"/><circle cx="350.2" cy="338.5" r="1.72"/><circle cx="345.8" cy="340.6" r="1.72"/><circle cx="341.6" cy="347.6" r="1.72"/><circle cx="346" cy="347.4" r="1.72"/><circle cx="350.6" cy="346.8" r="1.72"/><circle cx="341.5" cy="350.2" r="1.72"/><circle cx="345.8" cy="350.6" r="1.72"/><circle cx="350.2" cy="349.8" r="1.72"/><circle cx="343.6" cy="352.4" r="1.72"/><circle cx="345.8" cy="353.3" r="1.72"/><circle cx="350.2" cy="352.5" r="1.72"/><circle cx="350.2" cy="355.6" r="1.72"/><circle cx="341.6" cy="357.8" r="1.72"/><circle cx="345.9" cy="359.4" r="1.72"/><circle cx="341.9" cy="365.5" r="1.72"/><circle cx="346.1" cy="366.8" r="1.72"/><circle cx="350.4" cy="365.9" r="1.72"/><circle cx="378.8" cy="337.8" r="1.72"/><circle cx="378.8" cy="340.2" r="1.72"/><circle cx="387.5" cy="337.4" r="1.72"/><circle cx="383.1" cy="338.9" r="1.72"/><circle cx="385.5" cy="340.5" r="1.72"/><circle cx="387.5" cy="342.1" r="1.72"/><circle cx="383.1" cy="344.3" r="1.72"/><circle cx="378.8" cy="346.5" r="1.72"/><circle cx="383.1" cy="350.5" r="1.72"/><circle cx="378.8" cy="353.5" r="1.72"/><circle cx="385.5" cy="353.5" r="1.72"/><circle cx="377.1" cy="356.2" r="1.72"/><circle cx="380.2" cy="356.2" r="1.72"/><circle cx="383.1" cy="356.2" r="1.72"/><circle cx="386.3" cy="356.2" r="1.72"/><circle cx="389.4" cy="356.2" r="1.72"/><circle cx="378.8" cy="358.2" r="1.72"/><circle cx="387.5" cy="358.2" r="1.72"/><circle cx="382" cy="354.6" r="1.72"/><circle cx="383.1" cy="360.2" r="1.72"/><circle cx="378.8" cy="362.8" r="1.72"/><circle cx="385.5" cy="362.8" r="1.72"/><circle cx="387.5" cy="363.6" r="1.72"/><circle cx="383.1" cy="365.6" r="1.72"/><circle cx="378.8" cy="367.3" r="1.72"/><circle cx="387.6" cy="367" r="1.72"/><circle cx="383.2" cy="370.1" r="1.72"/><circle cx="387.8" cy="370.6" r="1.72"/><circle cx="383.6" cy="374.7" r="1.72"/><circle cx="420.7" cy="364.3" r="1.72"/><circle cx="420.7" cy="400.8" r="1.72"/><circle cx="420.7" cy="405.4" r="1.72"/><circle cx="416.3" cy="409.2" r="1.72"/><circle cx="420.6" cy="410.2" r="1.72"/><circle cx="424.8" cy="414" r="1.72"/><circle cx="420.6" cy="417.6" r="1.72"/><circle cx="422.7" cy="419.2" r="1.72"/><circle cx="424.8" cy="420.8" r="1.72"/><circle cx="416.3" cy="419.9" r="1.72"/><circle cx="416.3" cy="422.2" r="1.72"/><circle cx="420.6" cy="422.6" r="1.72"/><circle cx="414.7" cy="425.5" r="1.72"/><circle cx="417.7" cy="425.5" r="1.72"/><circle cx="420.6" cy="425.5" r="1.72"/><circle cx="423.8" cy="425.5" r="1.72"/><circle cx="426.9" cy="425.5" r="1.72"/><circle cx="420.6" cy="427.7" r="1.72"/><circle cx="424.8" cy="427.3" r="1.72"/><circle cx="424.8" cy="430.3" r="1.72"/><circle cx="416.3" cy="430.9" r="1.72"/><circle cx="420.6" cy="432.6" r="1.72"/><circle cx="416.3" cy="436.8" r="1.72"/><circle cx="420.6" cy="438.1" r="1.72"/><circle cx="424.8" cy="438.1" r="1.72"/><circle cx="416.3" cy="441.8" r="1.72"/><circle cx="420.6" cy="443.5" r="1.72"/><circle cx="420.6" cy="451.2" r="1.72"/>
</g>
<path d="M196.1 408.5V415.3H215.5V408.5M233.9 401.5V394.7H253V401.5" stroke="#000" stroke-width="1.25" fill="none"/>
<text x="202.2" y="426.6" font-size="12.5" letter-spacing="0.7" text-anchor="middle" fill="#1a1a1a" stroke="#1a1a1a" stroke-width="0.3">**</text>
<text x="216.5" y="438.9" font-size="12.5" letter-spacing="0.7" text-anchor="middle" fill="#1a1a1a" stroke="#1a1a1a" stroke-width="0.3">*</text>
<text x="242.7" y="396.8" font-size="12.5" letter-spacing="0.7" text-anchor="middle" fill="#1a1a1a" stroke="#1a1a1a" stroke-width="0.3">**</text>
<ellipse cx="459.2" cy="12.5" rx="1.9" ry="1.6" fill="#000"/>
<circle cx="459.2" cy="34" r="1.65" fill="#777"/>
<g font-size="8.7" fill="#1c1c1c">
<text transform="translate(463.4,16.0) scale(0.815,1)">Forodesine/dGuo</text>
<text transform="translate(463.4,26.3) scale(0.815,1)">sensitive</text>
<text transform="translate(463.4,36.8) scale(0.815,1)">Forodesine/dGuo</text>
<text transform="translate(463.4,47.2) scale(0.815,1)">resistant</text>
</g>
<ellipse cx="459.2" cy="292" rx="1.9" ry="1.6" fill="#000"/>
<circle cx="459.2" cy="313" r="1.65" fill="#777"/>
<g font-size="8.7" fill="#1c1c1c">
<text transform="translate(463.4,294.9) scale(0.815,1)">Ara-G</text>
<text transform="translate(463.4,305.6) scale(0.815,1)">sensitive</text>
<text transform="translate(463.4,316.6) scale(0.815,1)">Ara-G</text>
<text transform="translate(463.4,327.1) scale(0.815,1)">resistant</text>
</g>
</svg>
</body></html>
